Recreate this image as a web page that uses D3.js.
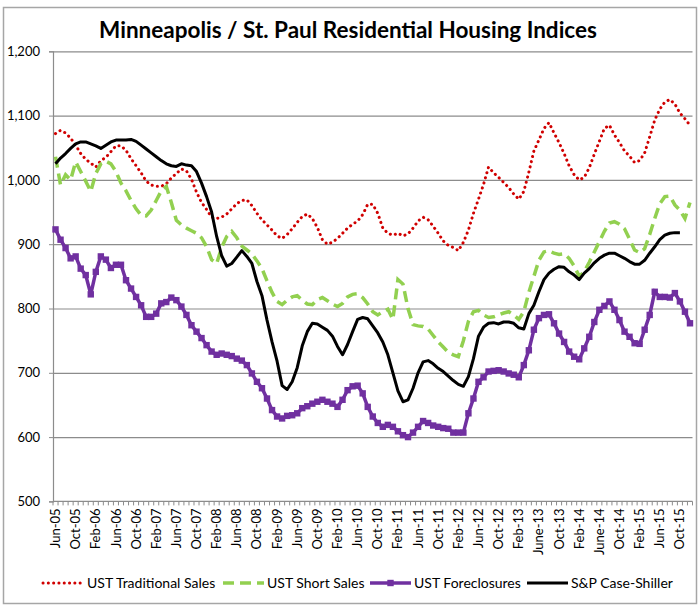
<!DOCTYPE html>
<html>
<head>
<meta charset="utf-8">
<script src="https://cdn.jsdelivr.net/npm/d3@7"></script>
<style>
    body { margin: 0; background: #fff; }
    svg { display: block; }
    text { font-family: Lato, "Open Sans", sans-serif; fill: #000; }
</style>
</head>
<body>
<svg id="chart" width="700" height="608"></svg>
<script>
// Monthly categories Jun-05 .. Dec-15
const months = d3.timeMonth.range(new Date(2005, 5, 1), new Date(2016, 0, 1));

// one label every 4 months
const tickLabels = [
    "Jun-05", "Oct-05", "Feb-06", "Jun-06", "Oct-06", "Feb-07", "Jun-07", "Oct-07",
    "Feb-08", "Jun-08", "Oct-08", "Feb-09", "Jun-09", "Oct-09", "Feb-10", "Jun-10",
    "Oct-10", "Feb-11", "Jun-11", "Oct-11", "Feb-12", "Jun-12", "Oct-12", "Feb-13",
    "June-13", "Oct-13", "Feb-14", "June-14", "Oct-14", "Feb-15", "Jun-15", "Oct-15"
];

const yTicks = [500, 600, 700, 800, 900, 1000, 1100, 1200];

const traditional = [
    1072, 1077, 1073, 1065, 1054, 1041, 1032, 1026, 1020, 1030, 1035, 1044, 1053, 1053, 1046, 1033,
    1022, 1011, 998, 992, 990, 990, 994, 1003, 1010, 1017, 1014, 1001, 981, 965, 954, 942,
    940, 942, 947, 955, 963, 968, 969, 960, 948, 938, 930, 922, 913, 909, 915, 924,
    934, 943, 947, 940, 926, 907, 900, 903, 909, 917, 925, 931, 936, 946, 962, 962,
    948, 925, 917, 914, 917, 913, 916, 925, 936, 942, 938, 928, 917, 905, 898, 895,
    890, 903, 922, 948, 970, 993, 1020, 1011, 1004, 996, 988, 978, 970, 982, 1012, 1045,
    1062, 1080, 1089, 1073, 1058, 1041, 1022, 1008, 1000, 1004, 1019, 1040, 1060, 1080, 1085, 1070,
    1058, 1045, 1037, 1027, 1030, 1042, 1067, 1093, 1110, 1121, 1125, 1118, 1104, 1095, 1085
];

const shortSales = [
    1036, 992, 1008, 1000, 1028, 1013, 998, 982, 1010, 1025, 1029, 1025, 1013, 995, 983, 968,
    955, 945, 944, 953, 968, 983, 990, 965, 937, 930, 925, 921, 917, 910, 896, 876,
    870, 895, 912, 920, 910, 897, 891, 885, 874, 862, 843, 825, 811, 806, 813, 818,
    820, 813, 807, 806, 814, 817, 812, 807, 803, 808, 818, 822, 823, 817, 807, 795,
    790, 795, 799, 783, 845, 838, 800, 775, 773, 772, 768, 758, 748, 740, 732, 728,
    725, 750, 780, 795, 797, 790, 786, 787, 790, 793, 795, 790, 783, 795, 825, 850,
    875, 888, 890, 886, 884, 885, 878, 866, 850, 857, 872, 888, 904, 920, 933, 935,
    931, 924, 908, 891, 887, 893, 915, 940, 963, 974, 975, 961, 953, 940, 965
];

const foreclosures = [
    923, 907, 894, 878, 881, 862, 852, 822, 857, 881, 876, 863, 868, 868, 844, 831,
    818, 805, 787, 787, 792, 808, 810, 817, 813, 803, 790, 774, 764, 754, 743, 733,
    728, 730, 728, 726, 722, 719, 712, 699, 686, 676, 660, 642, 632, 629, 633, 634,
    637, 645, 648, 652, 655, 658, 655, 652, 647, 658, 673, 679, 680, 668, 647, 632,
    622, 616, 619, 616, 609, 603, 600, 607, 616, 625, 622, 618, 616, 614, 613, 607,
    607, 607, 637, 660, 686, 693, 702, 703, 704, 702, 699, 697, 693, 712, 735, 767,
    785, 790, 791, 777, 761, 748, 733, 725, 721, 738, 756, 779, 798, 804, 811, 798,
    782, 764, 756, 746, 745, 767, 790, 826, 818, 818, 817, 824, 811, 795, 777
];

const caseShiller = [
    1025, 1034, 1041, 1049, 1056, 1059, 1059, 1056, 1053, 1049, 1054, 1059, 1062, 1062, 1062, 1063,
    1060, 1054, 1048, 1042, 1036, 1030, 1025, 1022, 1021, 1025, 1023, 1022, 1013, 995, 974, 950,
    912, 882, 866, 870, 880, 890, 881, 870, 842, 820, 782, 748, 718, 680, 674, 686,
    708, 742, 764, 777, 776, 771, 766, 757, 741, 728, 744, 764, 783, 786, 784, 773,
    762, 748, 728, 700, 672, 655, 658, 676, 700, 717, 719, 714, 707, 702, 695, 688,
    682, 679, 694, 722, 757, 771, 777, 778, 776, 779, 779, 777, 770, 768, 792, 805,
    826, 845, 855, 861, 865, 864, 857, 852, 845, 855, 862, 871, 878, 883, 886, 886,
    882, 878, 873, 869, 869, 875, 886, 896, 907, 914, 917, 918, 918, null, null
];

const svg = d3.select("#chart");

const plotLeft = 53, plotRight = 692.5, plotTop = 51.3, plotBottom = 501.4;

const x = d3.scaleBand().domain(d3.range(months.length)).range([plotLeft, plotRight]);
const y = d3.scaleLinear().domain([500, 1200]).range([plotBottom, plotTop]);
const cx = (i) => x(i) + x.bandwidth() / 2;

// outer frame
svg.append("rect")
    .attr("x", 3.5).attr("y", 7.5)
    .attr("width", 693).attr("height", 596)
    .attr("fill", "#fff")
    .attr("stroke", "#a6a6a6")
    .attr("stroke-width", 1.5);

// title
svg.append("text")
    .attr("x", 348).attr("y", 38)
    .attr("text-anchor", "middle")
    .attr("font-size", 22.5)
    .attr("font-weight", "bold")
    .text("Minneapolis / St. Paul Residential Housing Indices");

// gridlines
const grid = svg.append("g")
    .attr("transform", `translate(${plotLeft},0)`)
    .call(d3.axisLeft(y).tickValues(yTicks.filter(d => d > 500))
        .tickSize(-(plotRight - plotLeft)).tickFormat(""));
grid.select(".domain").remove();
grid.selectAll("line").attr("stroke", "#8c8c8c").attr("stroke-width", 1.2);

// y axis
const yAxis = svg.append("g")
    .attr("transform", `translate(${plotLeft},0)`)
    .call(d3.axisLeft(y).tickValues(yTicks).tickSize(4).tickPadding(9)
        .tickFormat(d3.format(",")));
yAxis.select(".domain").attr("stroke", "#8c8c8c").attr("stroke-width", 1.2);
yAxis.selectAll("line").attr("stroke", "#8c8c8c");
yAxis.selectAll("text")
    .attr("font-size", 13)
    .style("font-family", "Lato, 'Open Sans', sans-serif")
    .attr("fill", "#000");

// x axis: line, a tick at every month boundary, labels every 4 months
svg.append("line")
    .attr("x1", plotLeft).attr("x2", plotRight)
    .attr("y1", plotBottom).attr("y2", plotBottom)
    .attr("stroke", "#8c8c8c").attr("stroke-width", 1.2);

svg.append("g")
    .selectAll("line")
    .data(d3.range(months.length + 1))
    .join("line")
    .attr("x1", (d) => plotLeft + d * x.step())
    .attr("x2", (d) => plotLeft + d * x.step())
    .attr("y1", plotBottom).attr("y2", plotBottom + 4)
    .attr("stroke", "#8c8c8c").attr("stroke-width", 1);

svg.append("g")
    .selectAll("text")
    .data(tickLabels)
    .join("text")
    .attr("transform", (d, k) => `translate(${cx(k * 4)},${plotBottom + 7}) rotate(-90)`)
    .attr("text-anchor", "end")
    .attr("dy", "0.35em")
    .attr("font-size", 13)
    .text((d) => d);

// series
const line = d3.line()
    .defined((v) => v != null)
    .x((v, i) => cx(i))
    .y((v) => y(v));

svg.append("path")
    .datum(traditional)
    .attr("d", line)
    .attr("fill", "none")
    .attr("stroke", "#d00000")
    .attr("stroke-width", 3)
    .attr("stroke-linecap", "round")
    .attr("stroke-dasharray", "0.1 5.2");

svg.append("path")
    .datum(shortSales)
    .attr("d", line)
    .attr("fill", "none")
    .attr("stroke", "#92d050")
    .attr("stroke-width", 3.5)
    .attr("stroke-dasharray", "11 6");

svg.append("path")
    .datum(foreclosures)
    .attr("d", line)
    .attr("fill", "none")
    .attr("stroke", "#7030a0")
    .attr("stroke-width", 3.5);

svg.append("g")
    .selectAll("rect")
    .data(foreclosures)
    .join("rect")
    .attr("x", (v, i) => cx(i) - 3.2)
    .attr("y", (v) => y(v) - 3.2)
    .attr("width", 6.4).attr("height", 6.4)
    .attr("fill", "#7030a0");

svg.append("path")
    .datum(caseShiller)
    .attr("d", line)
    .attr("fill", "none")
    .attr("stroke", "#000")
    .attr("stroke-width", 3)
    .attr("stroke-linejoin", "round");

// legend
const legendY = 583;
const legend = [
    { x: 43, label: "UST Traditional Sales", color: "#d00000", dash: "0.1 5.2", cap: "round", w: 3 },
    { x: 223, label: "UST Short Sales", color: "#92d050", dash: "11 6", cap: "butt", w: 3.5 },
    { x: 370, label: "UST Foreclosures", color: "#7030a0", dash: null, cap: "butt", w: 3.5, marker: true },
    { x: 527, label: "S&P Case-Shiller", color: "#000", dash: null, cap: "butt", w: 3 },
];

const items = svg.append("g")
    .selectAll("g")
    .data(legend)
    .join("g")
    .attr("transform", (d) => `translate(${d.x},${legendY})`);

items.append("line")
    .attr("x1", 0).attr("x2", 41)
    .attr("stroke", (d) => d.color)
    .attr("stroke-width", (d) => d.w)
    .attr("stroke-linecap", (d) => d.cap)
    .attr("stroke-dasharray", (d) => d.dash);

items.filter((d) => d.marker)
    .append("rect")
    .attr("x", 17.3).attr("y", -3.2)
    .attr("width", 6.4).attr("height", 6.4)
    .attr("fill", (d) => d.color);

items.append("text")
    .attr("x", 44)
    .attr("dy", "0.35em")
    .attr("font-size", 14)
    .text((d) => d.label);
</script>
</body>
</html>
